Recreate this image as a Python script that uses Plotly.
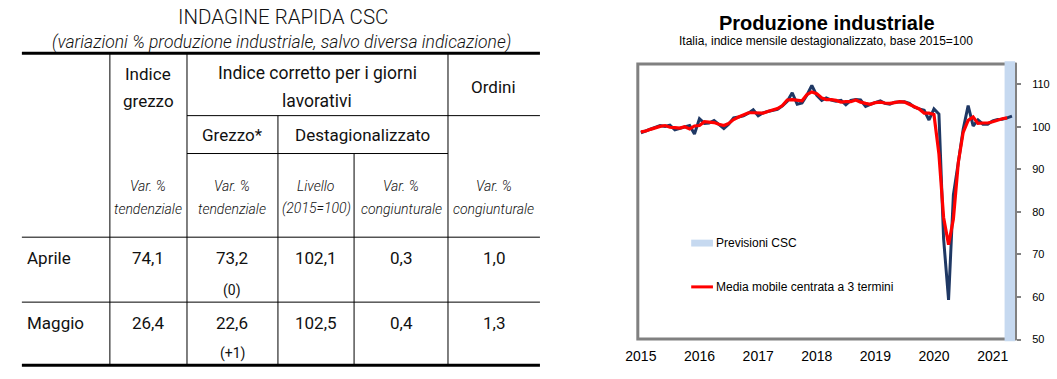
import plotly.graph_objects as go
import pandas as pd

# ---------------- DATA ----------------
months = pd.date_range("2015-01-01", periods=77, freq="MS")
produzione = [98.6, 99.0, 99.4, 99.8, 100.3, 100.1, 100.4, 99.3, 99.7, 100.0, 100.3, 98.3,
              101.9, 100.8, 100.9, 101.5, 100.6, 99.6, 100.6, 102.1, 102.3, 102.6, 103.2, 104.0,
              102.6, 103.3, 103.6, 103.9, 104.1, 104.9, 106.0, 108.0, 105.3, 105.6, 107.5, 109.7,
              107.4, 106.2, 106.8, 106.3, 106.0, 106.2, 105.2, 106.2, 106.4, 106.3, 104.8, 105.3,
              105.7, 106.1, 105.5, 105.3, 105.8, 105.9, 105.9, 105.5, 104.6, 104.2, 103.9, 101.6,
              104.2, 103.0, 73.7, 59.3, 84.0, 91.7, 99.4, 105.0, 100.2, 101.6, 100.6, 100.6,
              101.4, 101.7, 101.8, 102.1, 102.5]
media_mobile = [98.8, 99.0, 99.4, 99.8, 100.1, 100.3, 99.9, 99.8, 99.7, 100.0, 99.5, 100.2,
                100.3, 101.2, 101.1, 101.0, 100.6, 100.3, 100.8, 101.7, 102.3, 102.7, 103.3, 103.3,
                103.3, 103.2, 103.6, 103.9, 104.3, 105.0, 106.3, 106.4, 106.3, 106.1, 107.6, 108.2,
                107.8, 106.8, 106.4, 106.4, 106.2, 105.8, 105.9, 105.9, 106.3, 105.8, 105.5, 105.3,
                105.7, 105.8, 105.6, 105.5, 105.7, 105.9, 105.8, 105.3, 104.8, 104.2, 103.2, 103.2,
                102.9, 93.6, 78.7, 72.3, 78.3, 91.7, 98.7, 101.5, 102.3, 100.8, 100.9, 100.9,
                101.2, 101.6, 101.9, 102.1]
previsioni_start = "2021-03-16"
year_ticks = ["2015", "2016", "2017", "2018", "2019", "2020", "2021"]
y_ticks = [50, 60, 70, 80, 90, 100, 110]

# table data
righe = ["Aprile", "Maggio"]
indice_grezzo = ["74,1", "26,4"]
grezzo_corr = ["73,2", "22,6"]
grezzo_note = ["(0)", "(+1)"]
livello = ["102,1", "102,5"]
var_cong = ["0,3", "0,4"]
ordini = ["1,0", "1,3"]

# ---------------- LAYOUT HELPERS ----------------
W, H = 1057, 379
DY = 3          # global vertical adjustment (px)
DXT = -6        # table horizontal adjustment (px)
DXC = -2        # chart horizontal adjustment (px)

def fx(x):
    return x / W
def fy(y):
    return 1 - (y + DY) / H
def tx(x):
    return fx(x + DXT)
def cxp(x):
    return fx(x + DXC)

TF = "Roboto"
AF = "Arial, Liberation Sans, sans-serif"

fig = go.Figure()

fig.add_trace(go.Scatter(x=months, y=produzione, mode="lines",
                         line=dict(color="#1f3864", width=3), showlegend=False,
                         hoverinfo="skip"))
fig.add_trace(go.Scatter(x=months[:len(media_mobile)], y=media_mobile, mode="lines",
                         line=dict(color="#ff0000", width=3.2), showlegend=False,
                         hoverinfo="skip"))

shapes = []
# chart frame
shapes.append(dict(type="rect", xref="paper", yref="paper", x0=cxp(635), x1=cxp(1016.7),
                   y0=fy(341.5), y1=fy(62), line=dict(color="#808080", width=3),
                   layer="below"))
# forecast band
shapes.append(dict(type="rect", xref="x", yref="y domain", x0=previsioni_start,
                   x1="2021-05-21", y0=-0.006, y1=1.006, fillcolor="#c6d9f0",
                   line=dict(width=0), layer="below"))
# legend glyphs
shapes.append(dict(type="rect", xref="paper", yref="paper", x0=cxp(689), x1=cxp(711),
                   y0=fy(247.5), y1=fy(240.5), fillcolor="#c6d9f0", line=dict(width=0)))
shapes.append(dict(type="line", xref="paper", yref="paper", x0=cxp(689), x1=cxp(711),
                   y0=fy(288.5), y1=fy(288.5), line=dict(color="#ff0000", width=3)))

# table lines
def hline(y, x0, x1, w=1):
    shapes.append(dict(type="line", xref="paper", yref="paper", x0=tx(x0), x1=tx(x1),
                       y0=fy(y), y1=fy(y), line=dict(color="black", width=w)))
def vline(x, y0, y1, w=1):
    shapes.append(dict(type="line", xref="paper", yref="paper", x0=tx(x), x1=tx(x),
                       y0=fy(y0), y1=fy(y1), line=dict(color="black", width=w)))

T_TOP, T_BOT = 51, 368
L, R = 16, 540
C1, C2, C3, C4, C5 = 105, 183, 275, 352, 447
hline(T_TOP, L, R, 3)
hline(T_BOT, L, R, 3)
hline(114.5, C2, R)
hline(153, C2, C5)
hline(238, L, R)
hline(304, L, R)
vline(C1, T_TOP, T_BOT)
vline(C2, T_TOP, T_BOT)
vline(C3, 114.5, T_BOT)
vline(C4, 153, T_BOT)
vline(C5, T_TOP, T_BOT)

ann = []
def txt(x, y, s, size=17, italic=False, weight=400, anchor="center", family=TF, color="#111"):
    ann.append(dict(x=tx(x), y=fy(y), xref="paper", yref="paper", text=s, showarrow=False,
                    xanchor=anchor, yanchor="middle",
                    font=dict(family=family, size=size, color=color,
                              style="italic" if italic else "normal", weight=weight)))

# table title
txt(280, 14, "INDAGINE RAPIDA CSC", size=20.5, weight=300)
txt(279, 40, "(variazioni % produzione industriale, salvo diversa indicazione)", size=17.5,
    italic=True, weight=300)

cx = [(C1 + C2) / 2, (C2 + C3) / 2, (C3 + C4) / 2, (C4 + C5) / 2, (C5 + R) / 2]
txt(cx[0], 72, "Indice")
txt(cx[0], 100, "grezzo")
txt((C2 + C5) / 2, 71, "Indice corretto per i giorni", size=17.5)
txt((C2 + C5) / 2, 100, "lavorativi", size=17.5)
txt(cx[4], 85, "Ordini")
txt(cx[1], 134, "Grezzo*")
txt((C3 + C5) / 2, 134, "Destagionalizzato")
sub1 = ["Var. %", "Var. %", "Livello", "Var. %", "Var. %"]
sub2 = ["tendenziale", "tendenziale", "(2015=100)", "congiunturale", "congiunturale"]
for i in range(5):
    txt(cx[i], 186, sub1[i], size=14, italic=True, weight=300)
    txt(cx[i], 209, sub2[i], size=14, italic=True, weight=300)

row_y = [259, 325]
note_y = [292, 356]
for r in range(2):
    txt(19, row_y[r], righe[r], anchor="left")
    txt(cx[0], row_y[r], indice_grezzo[r])
    txt(cx[1], row_y[r], grezzo_corr[r])
    txt(cx[1], note_y[r], grezzo_note[r], size=14)
    txt(cx[2], row_y[r], livello[r])
    txt(cx[3], row_y[r], var_cong[r])
    txt(cx[4], row_y[r], ordini[r])

# chart titles and legend text
ann.append(dict(x=cxp(826), y=fy(20), xref="paper", yref="paper", text="<b>Produzione industriale</b>",
                showarrow=False, xanchor="center", yanchor="middle",
                font=dict(family=AF, size=20, color="black")))
ann.append(dict(x=cxp(825), y=fy(38.5), xref="paper", yref="paper",
                text="Italia, indice mensile destagionalizzato, base 2015=100",
                showarrow=False, xanchor="center", yanchor="middle",
                font=dict(family=AF, size=12, color="black")))
ann.append(dict(x=cxp(712), y=fy(244), xref="paper", yref="paper", text="Previsioni CSC",
                showarrow=False, xanchor="left", yanchor="middle",
                font=dict(family=AF, size=12, color="black")))
ann.append(dict(x=cxp(712), y=fy(288.5), xref="paper", yref="paper",
                text="Media mobile centrata a 3 termini",
                showarrow=False, xanchor="left", yanchor="middle",
                font=dict(family=AF, size=12, color="black")))

fig.update_layout(
    width=W, height=H,
    margin=dict(l=0, r=0, t=0, b=0),
    paper_bgcolor="white", plot_bgcolor="white",
    shapes=shapes, annotations=ann,
    xaxis=dict(domain=[cxp(635), cxp(1016.7)], type="date",
               range=["2014-12-13", "2021-05-21"],
               tickvals=[f"{y}-01-01" for y in year_ticks], ticktext=year_ticks,
               showgrid=False, showline=False, zeroline=False, ticks="",
               tickfont=dict(family=AF, size=14, color="black"),
               ticklabelstandoff=6, fixedrange=True),
    yaxis=dict(domain=[fy(342), fy(61)], range=[50, 115], side="right",
               tickvals=y_ticks, showgrid=False, zeroline=False,
               showline=True, linecolor="#808080", linewidth=1.5,
               ticks="outside", ticklen=4, tickcolor="#808080", tickwidth=1.5,
               tickfont=dict(family=AF, size=11, color="black"),
               ticklabelstandoff=9, fixedrange=True),
)

fig.write_html("out.html", config={"displayModeBar": False},
               post_script="document.body.style.margin='0';document.body.style.overflow='hidden';")
